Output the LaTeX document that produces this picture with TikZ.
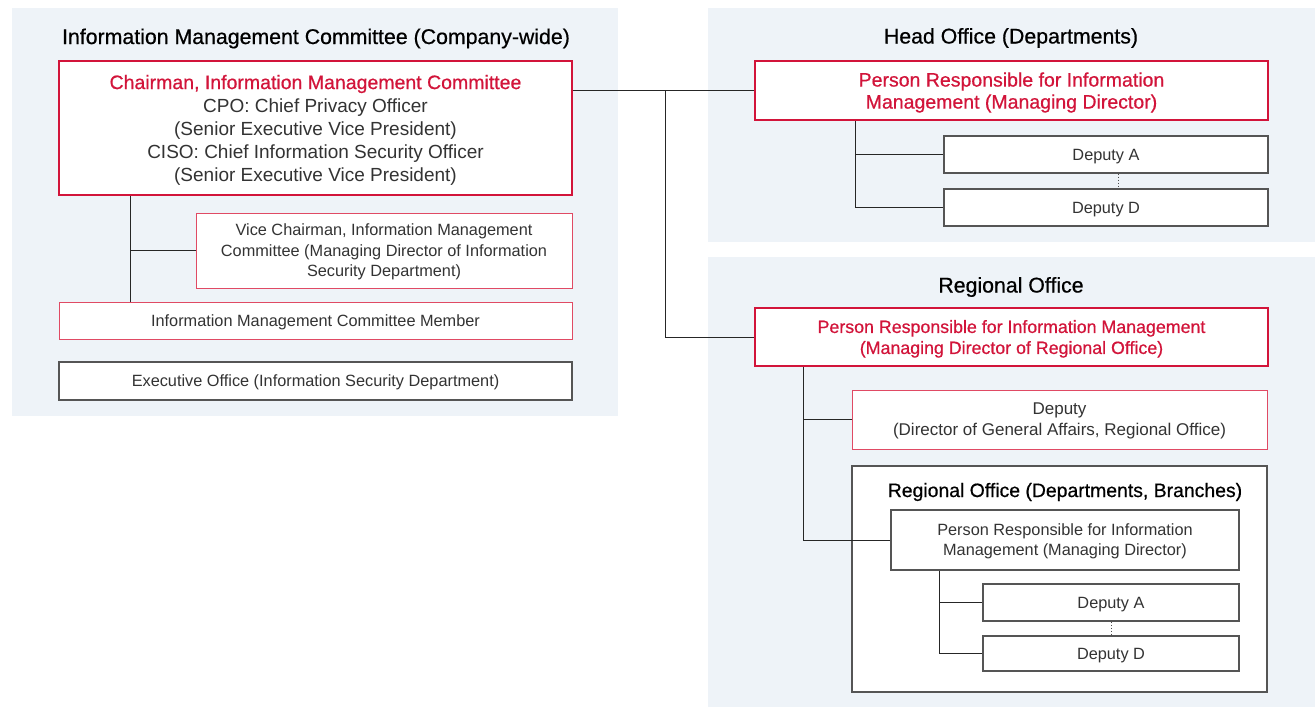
\documentclass[tikz,border=0pt]{standalone}
\usepackage{fontspec}
\setmainfont{Liberation Sans}
\newfontfamily\medfont[FakeBold=0.6]{Liberation Sans}
\definecolor{bgpanel}{HTML}{EEF3F8}
\definecolor{redc}{HTML}{D2143A}
\definecolor{redl}{HTML}{E04A64}
\definecolor{txt}{HTML}{333333}
\definecolor{grayb}{HTML}{555555}
\begin{document}
\begin{tikzpicture}[x=1pt,y=-1pt,
  panel/.style={fill=bgpanel,draw=none},
  heading/.style={font=\medfont\fontsize{21.3}{25}\selectfont,text=black},
  redbox/.style={draw=redc,line width=2pt,fill=white,inner sep=0pt,align=center,text depth=0pt,
     font=\medfont\fontsize{19.5}{22}\selectfont,text=redc},
  thinred/.style={draw=redl,line width=1pt,fill=white,inner sep=0pt,align=center,text depth=0pt,
     font=\fontsize{16.3}{20.5}\selectfont,text=txt},
  graybox/.style={draw=grayb,line width=1.2pt,fill=white,inner sep=0pt,align=center,text depth=0pt,
     font=\fontsize{16.3}{20}\selectfont,text=txt},
  conn/.style={draw=black!85,line width=1pt},
  dotconn/.style={draw=black!70,line width=0.8pt,dash pattern=on 1.5pt off 1.5pt}]
\useasboundingbox (0,0) rectangle (1315,707);
\fill[white] (0,0) rectangle (1315,707);
% panels
\path[panel] (12,8) rectangle (618,416);
\path[panel] (708,8) rectangle (1315,242);
\path[panel] (708,257) rectangle (1315,707);
% headings
\node[heading] (hleft) at (316,38.5) {Information Management Committee (Company-wide)};
\node[heading] (hhead) at (1011,38) {Head Office (Departments)};
\node[heading] (hreg) at (1011,287) {Regional Office};
% left boxes
\node[redbox,font=\medfont\fontsize{19.5}{23}\selectfont,minimum width=513pt,minimum height=134pt] (chair) at (315.5,128)
  {\textcolor{redc}{Chairman, Information Management Committee}\\
   {\color{txt}\fontsize{19}{23}\selectfont\normalfont CPO: Chief Privacy Officer}\\
   {\color{txt}\fontsize{19}{23}\selectfont\normalfont (Senior Executive Vice President)}\\
   {\color{txt}\fontsize{19}{23}\selectfont\normalfont CISO: Chief Information Security Officer}\\
   {\color{txt}\fontsize{19}{23}\selectfont\normalfont (Senior Executive Vice President)}};
\node[thinred,minimum width=376pt,minimum height=75pt] (vice) at (384,250.5)
  {Vice Chairman, Information Management\\Committee (Managing Director of Information\\Security Department)};
\node[thinred,minimum width=513pt,minimum height=37pt] (member) at (315.5,320.5)
  {Information Management Committee Member};
\node[graybox,minimum width=513pt,minimum height=38pt] (exec) at (315.5,381)
  {Executive Office (Information Security Department)};
% head office
\node[redbox,minimum width=513pt,minimum height=59pt] (hored) at (1011.5,90.5)
  {Person Responsible for Information\\Management (Managing Director)};
\node[graybox,minimum width=324pt,minimum height=37pt] (hoA) at (1106,154.5) {Deputy A};
\node[graybox,minimum width=324pt,minimum height=37pt] (hoD) at (1106,207.5) {Deputy D};
% regional office
\node[redbox,font=\medfont\fontsize{17.8}{21}\selectfont,minimum width=513pt,minimum height=58pt] (regred) at (1011.5,337)
  {Person Responsible for Information Management\\(Managing Director of Regional Office)};
\node[thinred,font=\fontsize{17}{21}\selectfont,minimum width=415pt,minimum height=59pt] (regdep) at (1059.5,419.5)
  {Deputy\\(Director of General Affairs, Regional Office)};
\node[graybox,minimum width=415pt,minimum height=226pt] (regbr) at (1059.5,579) {};
\node[heading,font=\medfont\fontsize{19.4}{23}\selectfont] (regbrh) at (1065,492)
  {Regional Office (Departments, Branches)};
\node[graybox,minimum width=348pt,minimum height=60pt] (brp) at (1065,540)
  {Person Responsible for Information\\Management (Managing Director)};
\node[graybox,minimum width=256pt,minimum height=37pt] (brA) at (1111,602.5) {Deputy A};
\node[graybox,minimum width=256pt,minimum height=35pt] (brD) at (1111,653.5) {Deputy D};
% connectors left
\coordinate (lv) at (130,0);
\draw[conn] (lv |- chair.south) -- (lv |- member.north);
\draw[conn] (lv |- vice.west) -- (vice.west);
% main connector
\coordinate (mv) at (665,0);
\draw[conn] (chair.east |- hored.west) -- (hored.west);
\draw[conn] (mv |- hored.west) -- (mv |- regred.west) -- (regred.west);
% head office connectors
\coordinate (hv) at (855,0);
\draw[conn] (hv |- hored.south) -- (hv |- hoD.west) -- (hoD.west);
\draw[conn] (hv |- hoA.west) -- (hoA.west);
\draw[dotconn] (hoA.south -| 1118,0) -- (hoD.north -| 1118,0);
% regional connectors
\coordinate (rv) at (803,0);
\draw[conn] (rv |- regred.south) -- (rv |- brp.west) -- (brp.west);
\draw[conn] (rv |- regdep.west) -- (regdep.west);
\coordinate (bv) at (939,0);
\draw[conn] (bv |- brp.south) -- (bv |- brD.west) -- (brD.west);
\draw[conn] (bv |- brA.west) -- (brA.west);
\draw[dotconn] (brA.south -| 1111,0) -- (brD.north -| 1111,0);
\end{tikzpicture}
\end{document}
